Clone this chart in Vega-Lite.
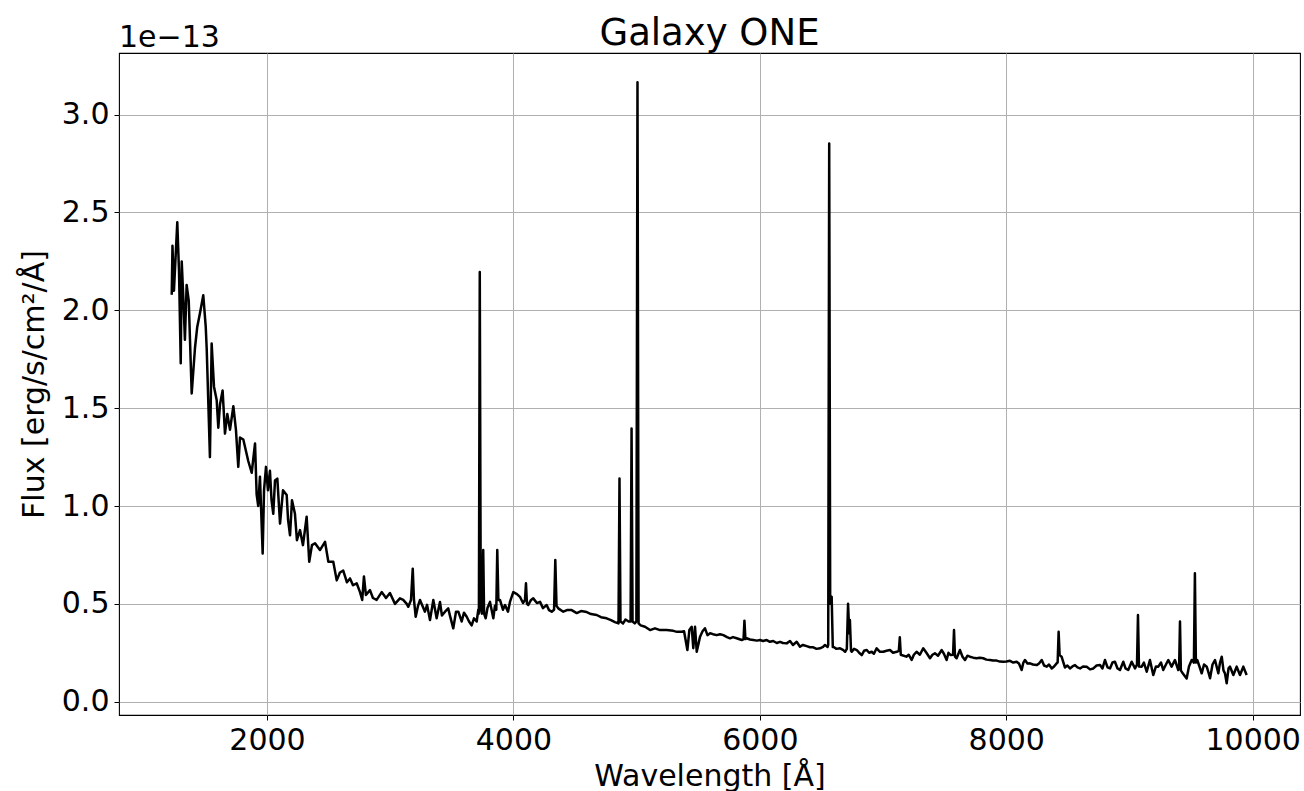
{
  "$schema": "https://vega.github.io/schema/vega-lite/v6.json",
  "width": 1181,
  "height": 662,
  "autosize": {"type": "none"},
  "padding": {"left": 119, "top": 53, "right": 4, "bottom": 76},
  "background": "white",
  "config": {
    "font": "DejaVu Sans",
    "view": {"stroke": "black", "strokeWidth": 1.1},
    "axis": {
      "domain": false,
      "grid": true,
      "gridColor": "#b0b0b0",
      "gridWidth": 1,
      "tickColor": "black",
      "tickSize": 5,
      "tickWidth": 1,
      "labelFont": "DejaVu Sans",
      "labelFontSize": 30,
      "labelColor": "black",
      "labelPadding": 5,
      "titleFont": "DejaVu Sans",
      "titleFontSize": 30,
      "titleFontWeight": "normal",
      "titleColor": "black"
    }
  },
  "title": {
    "text": "Galaxy ONE",
    "fontSize": 37,
    "fontWeight": "normal",
    "font": "DejaVu Sans",
    "color": "black",
    "anchor": "middle",
    "frame": "group",
    "baseline": "alphabetic",
    "offset": 8,
    "dy": 67
  },
  "layer": [
    {
      "data": {
        "values": [
          {"w": 1227, "f": 2.08}, {"w": 1233, "f": 2.33}, {"w": 1245, "f": 2.10}, {"w": 1272, "f": 2.45},
          {"w": 1286, "f": 2.20}, {"w": 1300, "f": 1.73}, {"w": 1308, "f": 2.25}, {"w": 1322, "f": 2.05},
          {"w": 1334, "f": 1.85}, {"w": 1348, "f": 2.13}, {"w": 1365, "f": 2.05}, {"w": 1389, "f": 1.575},
          {"w": 1416, "f": 1.81}, {"w": 1434, "f": 1.915}, {"w": 1456, "f": 1.985}, {"w": 1483, "f": 2.077},
          {"w": 1503, "f": 1.915}, {"w": 1511, "f": 1.80}, {"w": 1537, "f": 1.25}, {"w": 1551, "f": 1.83},
          {"w": 1570, "f": 1.61}, {"w": 1592, "f": 1.54}, {"w": 1605, "f": 1.40}, {"w": 1619, "f": 1.52},
          {"w": 1640, "f": 1.59}, {"w": 1659, "f": 1.37}, {"w": 1678, "f": 1.47}, {"w": 1700, "f": 1.39},
          {"w": 1727, "f": 1.51}, {"w": 1748, "f": 1.39}, {"w": 1767, "f": 1.20}, {"w": 1781, "f": 1.35},
          {"w": 1808, "f": 1.34}, {"w": 1848, "f": 1.23}, {"w": 1876, "f": 1.17}, {"w": 1903, "f": 1.32},
          {"w": 1916, "f": 1.06}, {"w": 1929, "f": 1.00}, {"w": 1943, "f": 1.15}, {"w": 1965, "f": 0.757},
          {"w": 1976, "f": 1.08}, {"w": 1992, "f": 1.20}, {"w": 2008, "f": 1.08}, {"w": 2024, "f": 1.18},
          {"w": 2037, "f": 1.03}, {"w": 2051, "f": 0.96}, {"w": 2065, "f": 1.13}, {"w": 2084, "f": 1.14},
          {"w": 2106, "f": 0.91}, {"w": 2130, "f": 1.08}, {"w": 2160, "f": 1.056}, {"w": 2171, "f": 0.93},
          {"w": 2187, "f": 0.85}, {"w": 2203, "f": 1.03}, {"w": 2227, "f": 0.96}, {"w": 2243, "f": 0.825},
          {"w": 2268, "f": 0.877}, {"w": 2292, "f": 0.80}, {"w": 2322, "f": 0.945}, {"w": 2343, "f": 0.715},
          {"w": 2365, "f": 0.80}, {"w": 2390, "f": 0.81}, {"w": 2430, "f": 0.775}, {"w": 2471, "f": 0.817},
          {"w": 2498, "f": 0.715}, {"w": 2538, "f": 0.715}, {"w": 2566, "f": 0.62}, {"w": 2592, "f": 0.66},
          {"w": 2619, "f": 0.67}, {"w": 2649, "f": 0.61}, {"w": 2674, "f": 0.63}, {"w": 2698, "f": 0.595},
          {"w": 2728, "f": 0.605}, {"w": 2755, "f": 0.56}, {"w": 2773, "f": 0.52}, {"w": 2787, "f": 0.64},
          {"w": 2803, "f": 0.545}, {"w": 2836, "f": 0.57}, {"w": 2860, "f": 0.53}, {"w": 2890, "f": 0.52},
          {"w": 2931, "f": 0.56}, {"w": 2966, "f": 0.53}, {"w": 2998, "f": 0.555}, {"w": 3039, "f": 0.50},
          {"w": 3079, "f": 0.528}, {"w": 3106, "f": 0.52}, {"w": 3134, "f": 0.50}, {"w": 3147, "f": 0.485},
          {"w": 3169, "f": 0.52}, {"w": 3183, "f": 0.68}, {"w": 3193, "f": 0.52}, {"w": 3207, "f": 0.434},
          {"w": 3226, "f": 0.49}, {"w": 3242, "f": 0.52}, {"w": 3282, "f": 0.46}, {"w": 3299, "f": 0.495},
          {"w": 3323, "f": 0.417}, {"w": 3350, "f": 0.52}, {"w": 3377, "f": 0.426}, {"w": 3404, "f": 0.51},
          {"w": 3420, "f": 0.44}, {"w": 3445, "f": 0.46}, {"w": 3471, "f": 0.477}, {"w": 3485, "f": 0.44},
          {"w": 3512, "f": 0.375}, {"w": 3534, "f": 0.46}, {"w": 3553, "f": 0.46}, {"w": 3580, "f": 0.41},
          {"w": 3599, "f": 0.455}, {"w": 3621, "f": 0.434}, {"w": 3640, "f": 0.41}, {"w": 3661, "f": 0.39},
          {"w": 3680, "f": 0.426}, {"w": 3702, "f": 0.41}, {"w": 3715, "f": 0.47}, {"w": 3720, "f": 0.45},
          {"w": 3727, "f": 2.196}, {"w": 3735, "f": 0.48}, {"w": 3745, "f": 0.45}, {"w": 3755, "f": 0.775},
          {"w": 3762, "f": 0.45}, {"w": 3775, "f": 0.426}, {"w": 3790, "f": 0.48}, {"w": 3810, "f": 0.51},
          {"w": 3837, "f": 0.426}, {"w": 3850, "f": 0.49}, {"w": 3861, "f": 0.47}, {"w": 3869, "f": 0.775},
          {"w": 3878, "f": 0.52}, {"w": 3891, "f": 0.52}, {"w": 3915, "f": 0.47}, {"w": 3932, "f": 0.494},
          {"w": 3956, "f": 0.46}, {"w": 3972, "f": 0.51}, {"w": 3999, "f": 0.56}, {"w": 4029, "f": 0.55},
          {"w": 4053, "f": 0.536}, {"w": 4078, "f": 0.504}, {"w": 4094, "f": 0.52}, {"w": 4102, "f": 0.605},
          {"w": 4110, "f": 0.50}, {"w": 4121, "f": 0.494}, {"w": 4143, "f": 0.52}, {"w": 4161, "f": 0.528},
          {"w": 4191, "f": 0.504}, {"w": 4216, "f": 0.51}, {"w": 4240, "f": 0.478}, {"w": 4270, "f": 0.494},
          {"w": 4289, "f": 0.468}, {"w": 4311, "f": 0.46}, {"w": 4330, "f": 0.47}, {"w": 4340, "f": 0.724},
          {"w": 4350, "f": 0.49}, {"w": 4364, "f": 0.477}, {"w": 4405, "f": 0.46}, {"w": 4435, "f": 0.468},
          {"w": 4473, "f": 0.468}, {"w": 4514, "f": 0.453}, {"w": 4549, "f": 0.463}, {"w": 4595, "f": 0.458},
          {"w": 4630, "f": 0.448}, {"w": 4676, "f": 0.443}, {"w": 4711, "f": 0.432}, {"w": 4757, "f": 0.426},
          {"w": 4792, "f": 0.417}, {"w": 4824, "f": 0.407}, {"w": 4853, "f": 0.40}, {"w": 4861, "f": 1.14},
          {"w": 4869, "f": 0.41}, {"w": 4890, "f": 0.40}, {"w": 4910, "f": 0.42}, {"w": 4935, "f": 0.41},
          {"w": 4951, "f": 0.41}, {"w": 4959, "f": 1.396}, {"w": 4967, "f": 0.41}, {"w": 4985, "f": 0.40},
          {"w": 4998, "f": 0.41}, {"w": 5007, "f": 3.165}, {"w": 5016, "f": 0.40}, {"w": 5033, "f": 0.39},
          {"w": 5068, "f": 0.383}, {"w": 5109, "f": 0.366}, {"w": 5149, "f": 0.375}, {"w": 5190, "f": 0.366},
          {"w": 5244, "f": 0.366}, {"w": 5298, "f": 0.362}, {"w": 5328, "f": 0.357}, {"w": 5366, "f": 0.357},
          {"w": 5385, "f": 0.36}, {"w": 5412, "f": 0.264}, {"w": 5428, "f": 0.366}, {"w": 5447, "f": 0.383},
          {"w": 5460, "f": 0.273}, {"w": 5474, "f": 0.383}, {"w": 5488, "f": 0.255}, {"w": 5514, "f": 0.33},
          {"w": 5535, "f": 0.36}, {"w": 5555, "f": 0.375}, {"w": 5575, "f": 0.34}, {"w": 5596, "f": 0.35},
          {"w": 5620, "f": 0.345}, {"w": 5650, "f": 0.34}, {"w": 5677, "f": 0.345}, {"w": 5704, "f": 0.34},
          {"w": 5734, "f": 0.33}, {"w": 5758, "f": 0.324}, {"w": 5782, "f": 0.33}, {"w": 5812, "f": 0.324},
          {"w": 5853, "f": 0.315}, {"w": 5868, "f": 0.32}, {"w": 5875, "f": 0.414}, {"w": 5883, "f": 0.32},
          {"w": 5893, "f": 0.324}, {"w": 5920, "f": 0.318}, {"w": 5947, "f": 0.315}, {"w": 5977, "f": 0.312},
          {"w": 6001, "f": 0.315}, {"w": 6026, "f": 0.31}, {"w": 6056, "f": 0.315}, {"w": 6082, "f": 0.306},
          {"w": 6109, "f": 0.31}, {"w": 6137, "f": 0.30}, {"w": 6164, "f": 0.306}, {"w": 6188, "f": 0.30},
          {"w": 6218, "f": 0.298}, {"w": 6245, "f": 0.31}, {"w": 6269, "f": 0.29}, {"w": 6299, "f": 0.306},
          {"w": 6326, "f": 0.281}, {"w": 6350, "f": 0.29}, {"w": 6380, "f": 0.284}, {"w": 6407, "f": 0.278},
          {"w": 6434, "f": 0.278}, {"w": 6460, "f": 0.27}, {"w": 6489, "f": 0.273}, {"w": 6513, "f": 0.28},
          {"w": 6529, "f": 0.29}, {"w": 6550, "f": 0.28}, {"w": 6555, "f": 0.29}, {"w": 6563, "f": 2.853},
          {"w": 6571, "f": 0.50}, {"w": 6583, "f": 0.536}, {"w": 6592, "f": 0.28}, {"w": 6596, "f": 0.281},
          {"w": 6622, "f": 0.27}, {"w": 6651, "f": 0.273}, {"w": 6675, "f": 0.265}, {"w": 6692, "f": 0.255},
          {"w": 6706, "f": 0.27}, {"w": 6716, "f": 0.50}, {"w": 6726, "f": 0.35}, {"w": 6731, "f": 0.417},
          {"w": 6740, "f": 0.26}, {"w": 6746, "f": 0.255}, {"w": 6765, "f": 0.27}, {"w": 6787, "f": 0.264},
          {"w": 6806, "f": 0.25}, {"w": 6827, "f": 0.238}, {"w": 6846, "f": 0.26}, {"w": 6868, "f": 0.264},
          {"w": 6887, "f": 0.25}, {"w": 6908, "f": 0.255}, {"w": 6926, "f": 0.245}, {"w": 6948, "f": 0.273},
          {"w": 6975, "f": 0.255}, {"w": 7002, "f": 0.255}, {"w": 7028, "f": 0.26}, {"w": 7056, "f": 0.264},
          {"w": 7081, "f": 0.25}, {"w": 7111, "f": 0.255}, {"w": 7128, "f": 0.26}, {"w": 7136, "f": 0.329},
          {"w": 7144, "f": 0.24}, {"w": 7189, "f": 0.23}, {"w": 7208, "f": 0.24}, {"w": 7232, "f": 0.213},
          {"w": 7250, "f": 0.24}, {"w": 7272, "f": 0.255}, {"w": 7299, "f": 0.24}, {"w": 7326, "f": 0.273},
          {"w": 7352, "f": 0.25}, {"w": 7381, "f": 0.222}, {"w": 7401, "f": 0.24}, {"w": 7421, "f": 0.247},
          {"w": 7446, "f": 0.235}, {"w": 7476, "f": 0.264}, {"w": 7494, "f": 0.245}, {"w": 7516, "f": 0.213},
          {"w": 7531, "f": 0.25}, {"w": 7549, "f": 0.238}, {"w": 7568, "f": 0.24}, {"w": 7576, "f": 0.366},
          {"w": 7584, "f": 0.23}, {"w": 7597, "f": 0.222}, {"w": 7624, "f": 0.264}, {"w": 7645, "f": 0.23},
          {"w": 7665, "f": 0.213}, {"w": 7685, "f": 0.235}, {"w": 7705, "f": 0.23}, {"w": 7732, "f": 0.225},
          {"w": 7759, "f": 0.222}, {"w": 7786, "f": 0.225}, {"w": 7813, "f": 0.222}, {"w": 7839, "f": 0.215},
          {"w": 7868, "f": 0.213}, {"w": 7892, "f": 0.21}, {"w": 7922, "f": 0.21}, {"w": 7949, "f": 0.205},
          {"w": 7976, "f": 0.204}, {"w": 8002, "f": 0.205}, {"w": 8030, "f": 0.209}, {"w": 8057, "f": 0.20},
          {"w": 8084, "f": 0.204}, {"w": 8103, "f": 0.195}, {"w": 8125, "f": 0.162}, {"w": 8139, "f": 0.20},
          {"w": 8152, "f": 0.213}, {"w": 8172, "f": 0.195}, {"w": 8193, "f": 0.196}, {"w": 8217, "f": 0.19},
          {"w": 8247, "f": 0.187}, {"w": 8266, "f": 0.195}, {"w": 8288, "f": 0.213}, {"w": 8307, "f": 0.185},
          {"w": 8329, "f": 0.179}, {"w": 8347, "f": 0.19}, {"w": 8369, "f": 0.17}, {"w": 8388, "f": 0.18},
          {"w": 8409, "f": 0.196}, {"w": 8417, "f": 0.20}, {"w": 8425, "f": 0.357}, {"w": 8433, "f": 0.238},
          {"w": 8449, "f": 0.23}, {"w": 8464, "f": 0.20}, {"w": 8476, "f": 0.175}, {"w": 8496, "f": 0.185},
          {"w": 8517, "f": 0.17}, {"w": 8537, "f": 0.18}, {"w": 8558, "f": 0.187}, {"w": 8578, "f": 0.175},
          {"w": 8599, "f": 0.17}, {"w": 8623, "f": 0.18}, {"w": 8653, "f": 0.179}, {"w": 8680, "f": 0.165},
          {"w": 8707, "f": 0.17}, {"w": 8733, "f": 0.185}, {"w": 8761, "f": 0.187}, {"w": 8781, "f": 0.17},
          {"w": 8801, "f": 0.213}, {"w": 8822, "f": 0.175}, {"w": 8842, "f": 0.17}, {"w": 8862, "f": 0.20},
          {"w": 8882, "f": 0.204}, {"w": 8903, "f": 0.17}, {"w": 8923, "f": 0.162}, {"w": 8950, "f": 0.204},
          {"w": 8968, "f": 0.17}, {"w": 8990, "f": 0.162}, {"w": 9018, "f": 0.204}, {"w": 9045, "f": 0.17},
          {"w": 9061, "f": 0.19}, {"w": 9069, "f": 0.443}, {"w": 9077, "f": 0.18}, {"w": 9099, "f": 0.179},
          {"w": 9117, "f": 0.20}, {"w": 9140, "f": 0.153}, {"w": 9166, "f": 0.213}, {"w": 9193, "f": 0.136},
          {"w": 9215, "f": 0.18}, {"w": 9234, "f": 0.179}, {"w": 9256, "f": 0.20}, {"w": 9274, "f": 0.162},
          {"w": 9296, "f": 0.19}, {"w": 9315, "f": 0.213}, {"w": 9342, "f": 0.179}, {"w": 9369, "f": 0.213},
          {"w": 9396, "f": 0.162}, {"w": 9403, "f": 0.18}, {"w": 9410, "f": 0.41}, {"w": 9417, "f": 0.16},
          {"w": 9432, "f": 0.145}, {"w": 9464, "f": 0.119}, {"w": 9483, "f": 0.18}, {"w": 9505, "f": 0.213},
          {"w": 9523, "f": 0.20}, {"w": 9531, "f": 0.656}, {"w": 9539, "f": 0.20}, {"w": 9550, "f": 0.213},
          {"w": 9568, "f": 0.18}, {"w": 9586, "f": 0.145}, {"w": 9605, "f": 0.19}, {"w": 9627, "f": 0.179},
          {"w": 9641, "f": 0.15}, {"w": 9654, "f": 0.12}, {"w": 9674, "f": 0.19}, {"w": 9694, "f": 0.213},
          {"w": 9721, "f": 0.145}, {"w": 9735, "f": 0.20}, {"w": 9749, "f": 0.23}, {"w": 9763, "f": 0.16},
          {"w": 9775, "f": 0.145}, {"w": 9789, "f": 0.094}, {"w": 9804, "f": 0.17}, {"w": 9816, "f": 0.179},
          {"w": 9843, "f": 0.136}, {"w": 9870, "f": 0.179}, {"w": 9897, "f": 0.136}, {"w": 9924, "f": 0.179},
          {"w": 9951, "f": 0.136}
        ]
      },
      "mark": {"type": "line", "color": "black", "strokeWidth": 2.5, "strokeJoin": "round"},
      "encoding": {
        "x": {
          "field": "w",
          "type": "quantitative",
          "scale": {"domain": [799, 10384], "nice": false, "zero": false},
          "axis": {"title": "Wavelength [Å]", "values": [2000, 4000, 6000, 8000, 10000], "format": "d", "titlePadding": 6}
        },
        "y": {
          "field": "f",
          "type": "quantitative",
          "scale": {"domain": [-0.068, 3.315], "nice": false, "zero": false},
          "axis": {"title": "Flux [erg/s/cm²/Å]", "values": [0, 0.5, 1, 1.5, 2, 2.5, 3], "format": ".1f", "titlePadding": 12}
        }
      }
    },
    {
      "data": {"values": [{"t": "1e−13"}]},
      "mark": {"type": "text", "align": "left", "baseline": "alphabetic", "fontSize": 30, "font": "DejaVu Sans", "color": "black", "dy": -6},
      "encoding": {
        "x": {"datum": 799, "type": "quantitative"},
        "y": {"datum": 3.315, "type": "quantitative"},
        "text": {"field": "t"}
      }
    }
  ]
}
